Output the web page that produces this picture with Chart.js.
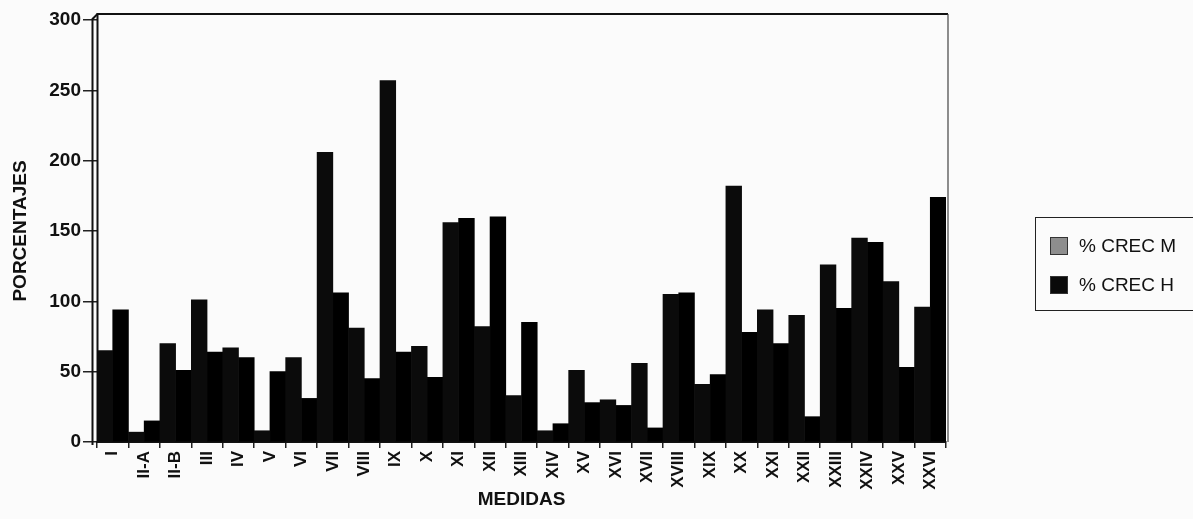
<!DOCTYPE html>
<html>
<head>
<meta charset="utf-8">
<script src="https://cdn.jsdelivr.net/npm/chart.js@4/dist/chart.umd.min.js"></script>
<style>
  html, body { margin: 0; padding: 0; background: #fbfbfb; }
  #wrap { position: relative; width: 1193px; height: 519px; overflow: hidden; }
  #chart { position: absolute; left: 0; top: 0; }
  #legend {
    position: absolute; left: 1035px; top: 217px; width: 170px; height: 94px;
    border: 1.5px solid #222; border-right: none; box-sizing: border-box;
    font-family: 'Liberation Sans', Arial, sans-serif; font-size: 19px; color: #111;
  }
  .item { position: absolute; left: 14px; display: flex; align-items: center; height: 20px; }
  .sw { width: 18px; height: 18px; margin-right: 11px; box-sizing: border-box; border: 1px solid #333; }
</style>
</head>
<body>
<div id="wrap">
  <canvas id="chart" width="1193" height="519"></canvas>
  <div id="legend"></div>
</div>
<script>
// Measures (roman numerals) on the category axis
const categories = ['I','II-A','II-B','III','IV','V','VI','VII','VIII','IX','X','XI','XII','XIII',
  'XIV','XV','XVI','XVII','XVIII','XIX','XX','XXI','XXII','XXIII','XXIV','XXV','XXVI'];

// Growth percentages per measure
const crecM = [65, 7, 70, 101, 67, 8, 60, 206, 81, 257, 68, 156, 82, 33,
  8, 51, 30, 56, 105, 41, 182, 94, 90, 126, 145, 114, 96];
const crecH = [94, 15, 51, 64, 60, 50, 31, 106, 45, 64, 46, 159, 160, 85,
  13, 28, 26, 10, 106, 48, 78, 70, 18, 95, 142, 53, 174];

const seriesNames = ['% CREC M', '% CREC H'];
const yTicks = [0, 50, 100, 150, 200, 250, 300];

const FONT = "'Liberation Sans', Arial, sans-serif";

// Back wall, front axis line and top/right frame of the plot
const framePlugin = {
  id: 'frame',
  beforeDatasetsDraw(chart) {
    const { ctx, chartArea: { left, right, top, bottom } } = chart;
    ctx.save();
    ctx.strokeStyle = '#111';
    ctx.lineWidth = 2;
    ctx.beginPath();
    ctx.moveTo(left + 0.5, bottom);
    ctx.lineTo(left + 0.5, top - 6);
    ctx.lineTo(right + 2, top - 6);
    ctx.stroke();
    ctx.beginPath();
    ctx.moveTo(left - 4.5, bottom + 3);
    ctx.lineTo(left - 4.5, top - 1);
    ctx.lineTo(left + 0.5, top - 6);
    ctx.stroke();
    ctx.lineWidth = 1.2;
    ctx.strokeStyle = '#444';
    ctx.beginPath();
    ctx.moveTo(right + 2, top - 6);
    ctx.lineTo(right + 2, bottom);
    ctx.stroke();
    ctx.restore();
  }
};

const chart = new Chart(document.getElementById('chart'), {
  type: 'bar',
  data: {
    labels: categories,
    datasets: [
      { label: seriesNames[0], data: crecM, backgroundColor: '#0b0b0b', borderWidth: 0,
        categoryPercentage: 1.0, barPercentage: 1.0 },
      { label: seriesNames[1], data: crecH, backgroundColor: '#000000', borderWidth: 0,
        categoryPercentage: 1.0, barPercentage: 1.0 }
    ]
  },
  options: {
    responsive: false,
    animation: false,
    layout: { padding: { top: 20, right: 247, left: 0, bottom: 0 } },
    plugins: { legend: { display: false }, tooltip: { enabled: false } },
    scales: {
      x: {
        afterFit(scale) { scale.height = 77; },
        grid: { drawOnChartArea: false, drawTicks: true, tickLength: 6, color: '#222', lineWidth: 1.5 },
        border: { display: true, color: '#111', width: 2 },
        ticks: {
          autoSkip: false, maxRotation: 90, minRotation: 90, padding: 3, color: '#111',
          font: { family: FONT, size: 17, weight: 'bold' }
        },
        title: {
          display: true, text: 'MEDIDAS', color: '#111',
          font: { family: FONT, size: 19, weight: 'bold' }, padding: { top: 0, bottom: 8 }
        }
      },
      y: {
        min: 0, max: 300,
        afterFit(scale) { scale.width = 97; },
        afterBuildTicks(scale) { scale.ticks = yTicks.map(v => ({ value: v })); },
        grid: { drawOnChartArea: false, drawTicks: true, tickLength: 14, color: '#222', lineWidth: 1.5 },
        border: { display: false },
        ticks: { padding: 2, color: '#111', font: { family: FONT, size: 19, weight: 'bold' } },
        title: {
          display: true, text: 'PORCENTAJES', color: '#111',
          font: { family: FONT, size: 19, weight: 'bold' }, padding: { top: 9, bottom: 0 }
        }
      }
    }
  },
  plugins: [framePlugin]
});

// Legend box beside the plot
const swatchColors = ['#8e8e8e', '#0a0a0a'];
const legend = document.getElementById('legend');
seriesNames.forEach((name, i) => {
  const item = document.createElement('div');
  item.className = 'item';
  item.style.top = (i === 0 ? 18 : 57) + 'px';
  const sw = document.createElement('span');
  sw.className = 'sw';
  sw.style.background = swatchColors[i];
  const txt = document.createElement('span');
  txt.textContent = name;
  item.appendChild(sw);
  item.appendChild(txt);
  legend.appendChild(item);
});
</script>
</body>
</html>
